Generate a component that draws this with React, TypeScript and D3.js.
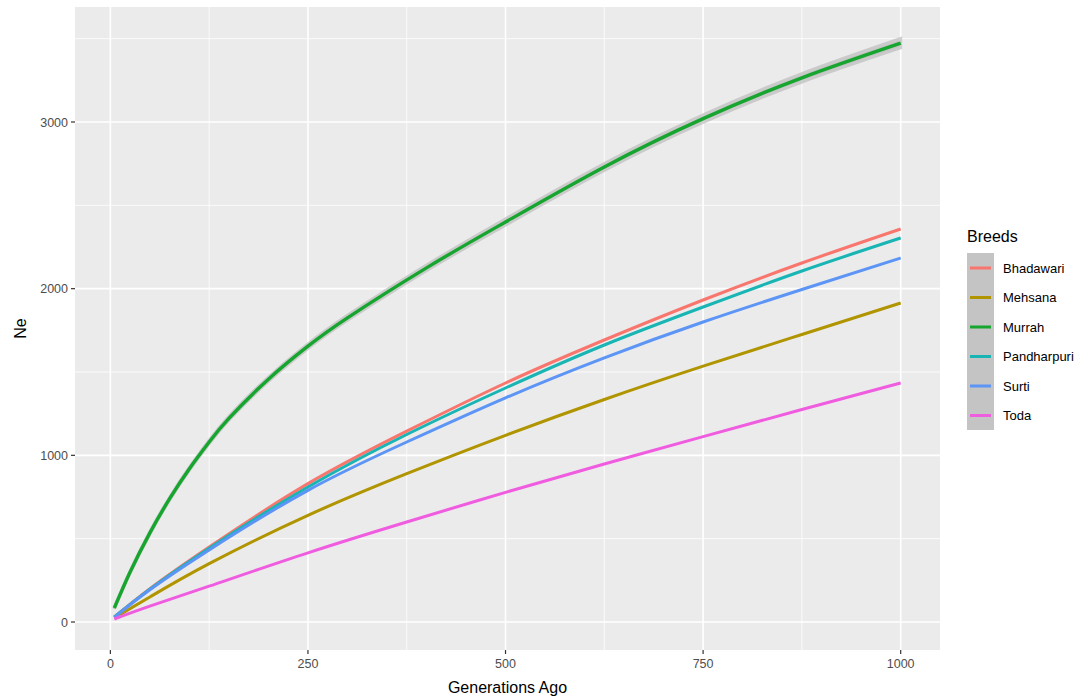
import React from "react";
import * as d3 from "d3";

const breeds = ["Bhadawari", "Mehsana", "Murrah", "Pandharpuri", "Surti", "Toda"];
const colors = ["#F8766D", "#B09500", "#16A52E", "#19B5B5", "#5C95F5", "#F05CE0"];

const gens = [5, 50, 125, 250, 375, 500, 625, 750, 875, 1000];
const bhadawari = [30, 200, 450, 830, 1145, 1434, 1692, 1932, 2154, 2358];
const mehsana = [25, 150, 350, 640, 890, 1120, 1335, 1535, 1725, 1914];
const pandharpuri = [30, 197, 443, 810, 1125, 1404, 1662, 1890, 2106, 2304];
const surti = [28, 193, 432, 790, 1080, 1345, 1585, 1800, 1995, 2184];
const toda = [18, 95, 215, 415, 600, 778, 948, 1112, 1275, 1434];

const murrahGens = [5, 25, 50, 75, 100, 125, 150, 200, 250, 300, 400, 500, 625, 750, 875, 1000];
const murrah = [84, 300, 535, 740, 920, 1080, 1222, 1457, 1655, 1825, 2125, 2400, 2730, 3020, 3265, 3473];
const murrahSe = [4, 6, 8, 9, 10, 11, 12, 13, 14, 15, 17, 19, 21, 23, 25, 28];

const xTicks = [0, 250, 500, 750, 1000];
const xMinor = [125, 375, 625, 875];
const yTicks = [0, 1000, 2000, 3000];
const yMinor = [500, 1500, 2500, 3500];

export default function App() {
  const W = 1088, H = 700;
  const panel = { left: 75, right: 940, top: 7, bottom: 650 };
  const x = d3.scaleLinear().domain([-44.75, 1049.75]).range([panel.left, panel.right]);
  const y = d3.scaleLinear().domain([-168, 3690]).range([panel.bottom, panel.top]);

  const seriesList = [
    { name: "Bhadawari", xs: gens, ys: bhadawari },
    { name: "Mehsana", xs: gens, ys: mehsana },
    { name: "Pandharpuri", xs: gens, ys: pandharpuri },
    { name: "Surti", xs: gens, ys: surti },
    { name: "Toda", xs: gens, ys: toda },
    { name: "Murrah", xs: murrahGens, ys: murrah },
  ];
  const line = d3
    .line<[number, number]>()
    .x((d) => x(d[0]))
    .y((d) => y(d[1]))
    .curve(d3.curveNatural);
  const ribbon = d3
    .area<number>()
    .x((_, i) => x(murrahGens[i]))
    .y0((_, i) => y(murrah[i] - murrahSe[i]))
    .y1((_, i) => y(murrah[i] + murrahSe[i]))
    .curve(d3.curveNatural);

  const font = "'Liberation Sans', Arial, Helvetica, sans-serif";
  const legendRows = [268, 297.5, 327, 356.5, 386, 415.5];

  return (
    <svg
      width={W}
      height={H}
      style={{ position: "absolute", left: 0, top: 0, background: "#fff" }}
      fontFamily={font}
    >
      <rect x={panel.left} y={panel.top} width={panel.right - panel.left} height={panel.bottom - panel.top} fill="#EBEBEB" />
      {xMinor.map((t) => (
        <line key={"xm" + t} x1={x(t)} x2={x(t)} y1={panel.top} y2={panel.bottom} stroke="#fff" strokeWidth={0.8} />
      ))}
      {yMinor.map((t) => (
        <line key={"ym" + t} y1={y(t)} y2={y(t)} x1={panel.left} x2={panel.right} stroke="#fff" strokeWidth={0.8} />
      ))}
      {xTicks.map((t) => (
        <line key={"xM" + t} x1={x(t)} x2={x(t)} y1={panel.top} y2={panel.bottom} stroke="#fff" strokeWidth={1.6} />
      ))}
      {yTicks.map((t) => (
        <line key={"yM" + t} y1={y(t)} y2={y(t)} x1={panel.left} x2={panel.right} stroke="#fff" strokeWidth={1.6} />
      ))}

      <path d={ribbon(murrah) || ""} fill="#B5B5B5" opacity={0.75} stroke="#C0C0C0" strokeWidth={3} />
      {seriesList.map((s) => {
        const pts: [number, number][] = s.xs.map((g, i) => [g, s.ys[i]]);
        const c = colors[breeds.indexOf(s.name)];
        return (
          <path
            key={s.name}
            d={line(pts) || ""}
            fill="none"
            stroke={c}
            strokeWidth={s.name === "Murrah" ? 3.4 : 3}
            strokeLinecap="butt"
          />
        );
      })}

      {xTicks.map((t) => (
        <g key={"xt" + t}>
          <line x1={x(t)} x2={x(t)} y1={panel.bottom} y2={panel.bottom + 4} stroke="#333" strokeWidth={1.2} />
          <text x={x(t)} y={panel.bottom + 18} textAnchor="middle" fontSize={12.5} fill="#4D4D4D">
            {t}
          </text>
        </g>
      ))}
      {yTicks.map((t) => (
        <g key={"yt" + t}>
          <line x1={panel.left - 4} x2={panel.left} y1={y(t)} y2={y(t)} stroke="#333" strokeWidth={1.2} />
          <text x={panel.left - 7} y={y(t) + 4.5} textAnchor="end" fontSize={12.5} fill="#4D4D4D">
            {t}
          </text>
        </g>
      ))}

      <text x={(panel.left + panel.right) / 2} y={693} textAnchor="middle" fontSize={16} fill="#000">
        Generations Ago
      </text>
      <text
        transform={`translate(26, ${(panel.top + panel.bottom) / 2}) rotate(-90)`}
        textAnchor="middle"
        fontSize={16}
        fill="#000"
      >
        Ne
      </text>

      <text x={967} y={242} fontSize={16} fill="#000">
        Breeds
      </text>
      <rect x={967} y={253} width={27} height={177} fill="#C4C4C4" />
      {breeds.map((b, i) => (
        <g key={b}>
          <line x1={970} x2={991} y1={legendRows[i]} y2={legendRows[i]} stroke={colors[i]} strokeWidth={3} />
          <text x={1003} y={legendRows[i] + 4.5} fontSize={13} fill="#000">
            {b}
          </text>
        </g>
      ))}
    </svg>
  );
}
